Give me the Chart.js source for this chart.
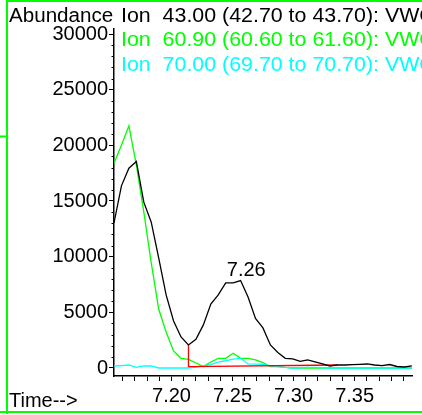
<!DOCTYPE html>
<html>
<head>
<meta charset="utf-8">
<title>Ion chromatogram</title>
<script src="https://cdn.jsdelivr.net/npm/chart.js@4"></script>
<style>
  html, body { margin: 0; padding: 0; background: #fff; }
  canvas { display: block; }
</style>
</head>
<body>
<canvas id="ionChart" width="422" height="415"></canvas>
<script>
// scan times (min)
const scanTimes = [7.1529, 7.1590, 7.1651, 7.1712, 7.1773, 7.1834, 7.1895, 7.1956, 7.2017, 7.2078,
  7.2139, 7.2200, 7.2261, 7.2322, 7.2383, 7.2444, 7.2505, 7.2566, 7.2627, 7.2688,
  7.2749, 7.2810, 7.2871, 7.2932, 7.2993, 7.3054, 7.3115, 7.3176, 7.3237, 7.3298,
  7.3359, 7.3420, 7.3481, 7.3542, 7.3603, 7.3664, 7.3725, 7.3786, 7.3847, 7.3908, 7.3969];

// abundance per ion
const ion43 = [13030, 16360, 17950, 18550, 14900, 13100, 9900, 6560, 4225, 2790,
  2070, 2580, 3870, 5750, 6560, 7640, 7640, 7850, 6380, 4450,
  3600, 2070, 1390, 870, 810, 600, 720, 540, 360, 180,
  270, 270, 310, 330, 360, 270, 220, 310, 135, 90, 180];
const ion609 = [18400, 20000, 21750, 18250, 14030, 9440, 5300, 3240, 1530, 870,
  780, 450, 120, 540, 870, 870, 1320, 870, 870, 720,
  480, 120, 120, 50, 0, 20, 0, 0, 20, 0,
  0, 0, 0, 0, 0, 0, 0, 0, 0, 0, 0];
const ion70 = [180, 220, 270, 60, 180, 180, 0, 0, 10, 0,
  0, 90, 180, 310, 520, 650, 800, 870, 360, 340,
  330, 180, 120, 50, 0, 20, 50, 50, 20, 0,
  0, 0, 10, 0, 0, 0, 0, 0, 0, 0, 0];

// integration baseline of the 7.26 peak
const baseTimes = [7.2139, 7.2139, 7.3359];
const baseValues = [2070, 120, 270];

const ionLabels = [
  'Ion  43.00 (42.70 to 43.70): VWC',
  'Ion  60.90 (60.60 to 61.60): VWC',
  'Ion  70.00 (69.70 to 70.70): VWC'
];
const ionColors = ['#000000', '#00ff00', '#00ffff'];

const yTickValues = [0, 5000, 10000, 15000, 20000, 25000, 30000];
const xTickValues = [7.16, 7.17, 7.18, 7.19, 7.20, 7.21, 7.22, 7.23, 7.24, 7.25, 7.26, 7.27,
  7.28, 7.29, 7.30, 7.31, 7.32, 7.33, 7.34, 7.35, 7.36, 7.37, 7.38, 7.39];
const xTickLabels = ['7.20', '7.25', '7.30', '7.35'];

const peakTime = 7.26;
const peakValue = 7850;
const peakLabel = '7.26';

const FONT_FAMILY = "'Liberation Sans', Arial, sans-serif";
const FONT = '20px ' + FONT_FAMILY;

function points(times, values) {
  return times.map((t, i) => ({ x: t, y: values[i] }));
}

// the original font is a bit wider than Arial
function wideText(ctx, txt, x, y, sx) {
  ctx.save();
  ctx.translate(x, y);
  ctx.scale(sx, 1);
  ctx.fillText(txt, 0, 0);
  ctx.restore();
}

// texts, minor ticks and the green frame
const extras = {
  id: 'extras',
  afterDraw(chart) {
    const ctx = chart.ctx;
    const xs = chart.scales.x;
    const ys = chart.scales.y;
    ctx.save();

    ctx.strokeStyle = '#000';
    ctx.lineWidth = 1;
    for (let v = 1000; v <= 30000; v += 1000) {
      if (v % 5000 === 0) continue;
      const py = Math.round(ys.getPixelForValue(v)) + 0.5;
      ctx.beginPath();
      ctx.moveTo(xs.left - 2.5, py);
      ctx.lineTo(xs.left, py);
      ctx.stroke();
    }

    ctx.font = FONT;
    ctx.textBaseline = 'alphabetic';
    ctx.textAlign = 'left';
    ctx.fillStyle = '#000';
    wideText(ctx, 'Abundance', 9, 21.5, 1.03);
    ctx.fillText('Time-->', 9, 406.5);
    ionLabels.forEach((txt, i) => {
      ctx.fillStyle = ionColors[i];
      wideText(ctx, txt, 121, 21.5 + i * 24.7, 1.069);
    });

    ctx.fillStyle = '#000';
    ctx.textAlign = 'center';
    ctx.fillText(peakLabel, xs.getPixelForValue(peakTime) + 1.5, ys.getPixelForValue(peakValue) - 5);

    ctx.strokeStyle = '#00ff00';
    ctx.lineWidth = 2;
    ctx.beginPath();
    ctx.moveTo(422, 1);
    ctx.lineTo(7, 1);
    ctx.lineTo(7, 414);
    ctx.moveTo(0, 412);
    ctx.lineTo(422, 412);
    ctx.moveTo(0, 136.5);
    ctx.lineTo(7, 136.5);
    ctx.stroke();

    ctx.restore();
  }
};

function loadChart() {
  const ctx = document.getElementById('ionChart');

  new Chart(ctx, {
    type: 'line',
    data: {
      datasets: [
        { label: 'Ion 43.00', data: points(scanTimes, ion43), borderColor: ionColors[0], borderWidth: 1.3, order: 0 },
        { label: 'Baseline', data: points(baseTimes, baseValues), borderColor: '#ff0000', borderWidth: 1.3, order: 1 },
        { label: 'Ion 70.00', data: points(scanTimes, ion70), borderColor: ionColors[2], borderWidth: 1.3, order: 2 },
        { label: 'Ion 60.90', data: points(scanTimes, ion609), borderColor: ionColors[1], borderWidth: 1.3, order: 3 }
      ]
    },
    options: {
      responsive: false,
      animation: false,
      elements: { point: { radius: 0 }, line: { tension: 0 } },
      layout: { padding: { left: 0, top: 29, right: 10, bottom: 0 } },
      plugins: { legend: { display: false }, tooltip: { enabled: false } },
      scales: {
        x: {
          type: 'linear',
          min: 7.1529,
          max: 7.397,
          afterBuildTicks: s => { s.ticks = xTickValues.map(v => ({ value: v })); },
          afterFit: s => { s.height = 39; },
          border: { display: true, color: '#000', width: 1.5 },
          grid: { drawOnChartArea: false, drawTicks: true, tickLength: 5, tickColor: '#000', tickWidth: 1 },
          ticks: {
            autoSkip: false,
            maxRotation: 0,
            padding: 3,
            color: '#000',
            font: { family: FONT_FAMILY, size: 20 },
            callback: v => {
              const s = Number(v).toFixed(2);
              return xTickLabels.includes(s) ? s : '';
            }
          }
        },
        y: {
          type: 'linear',
          min: -720,
          max: 30450,
          afterBuildTicks: s => { s.ticks = yTickValues.map(v => ({ value: v })); },
          afterFit: s => { s.width = 114; },
          border: { display: true, color: '#000', width: 1.5 },
          grid: { drawOnChartArea: false, drawTicks: true, tickLength: 5, tickColor: '#000', tickWidth: 1 },
          ticks: {
            padding: 1,
            color: '#000',
            font: { family: FONT_FAMILY, size: 20 },
            callback: v => String(v)
          }
        }
      }
    },
    plugins: [extras]
  });
}

document.addEventListener('DOMContentLoaded', function () {
  loadChart();
});
</script>
</body>
</html>
